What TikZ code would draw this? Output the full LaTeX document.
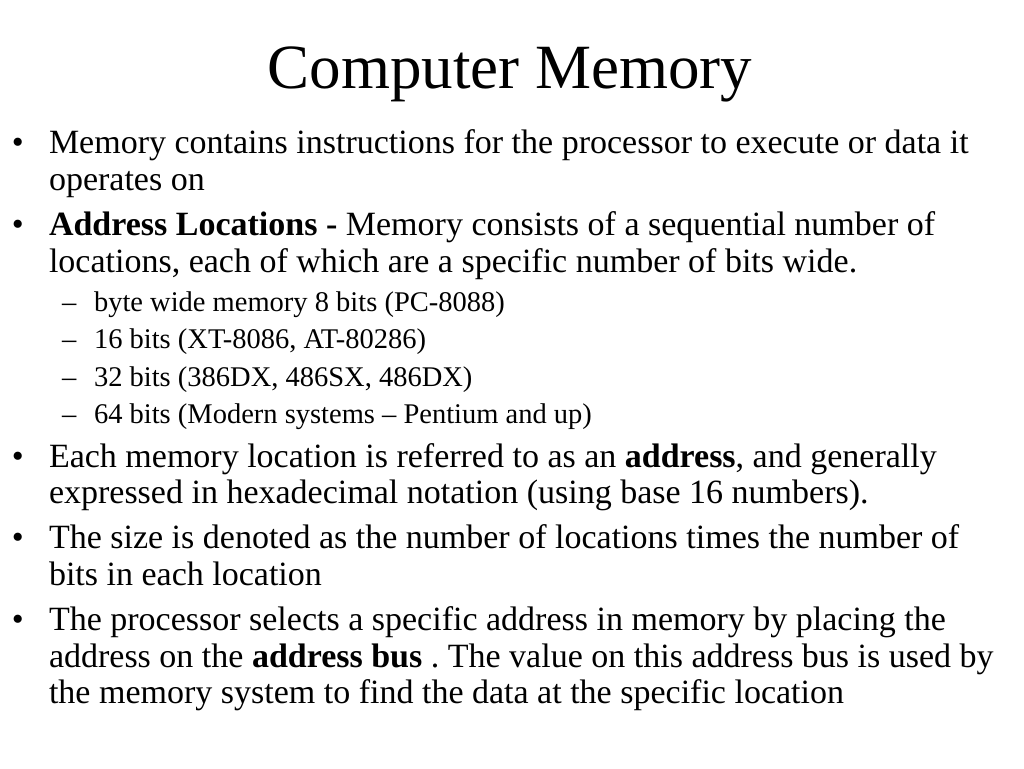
\documentclass[tikz,border=0pt]{standalone}
\usepackage{fontspec}
\setmainfont{Liberation Serif}
\frenchspacing
\begin{document}
\begin{tikzpicture}[x=1pt,y=-1pt,
  every node/.style={inner sep=0pt,outer sep=0pt,anchor=base west},
  body/.style={font=\fontsize{34}{40}\selectfont},
  sub/.style={font=\fontsize{28.5}{34}\selectfont},
  ttl/.style={font=\fontsize{63}{72}\selectfont,anchor=base}]
\useasboundingbox (0,0) rectangle (1024,768);
\fill[white] (0,0) rectangle (1024,768);
\node[ttl] (title) at (510,88) {Computer Memory};
% bullet 1
\node[body] (b1) at (12,153) {•};
\node[body] (t1a) at (49,153) {Memory contains instructions for the processor to execute or data it};
\node[body] (t1b) at (49,190) {operates on};
% bullet 2
\node[body] (b2) at (12,235) {•};
\node[body] (t2a) at (49,235) {\textbf{Address Locations -} Memory consists of a sequential number of};
\node[body] (t2b) at (49,272) {locations, each of which are a specific number of bits wide.};
% sub bullets
\node[sub] (d1) at (62,311) {–};
\node[sub] (s1) at (94,311) {byte wide memory 8 bits (PC-8088)};
\node[sub] (d2) at (62,348) {–};
\node[sub] (s2) at (94,348) {16 bits (XT-8086, AT-80286)};
\node[sub] (d3) at (62,386) {–};
\node[sub] (s3) at (94,386) {32 bits (386DX, 486SX, 486DX)};
\node[sub] (d4) at (62,423) {–};
\node[sub] (s4) at (94,423) {64 bits (Modern systems – Pentium and up)};
% bullet 3
\node[body] (b3) at (12,467) {•};
\node[body] (t3a) at (49,467) {Each memory location is referred to as an \textbf{address}, and generally};
\node[body] (t3b) at (49,503) {expressed in hexadecimal notation (using base 16 numbers).};
% bullet 4
\node[body] (b4) at (12,548) {•};
\node[body] (t4a) at (49,548) {The size is denoted as the number of locations times the number of};
\node[body] (t4b) at (49,585) {bits in each location};
% bullet 5
\node[body] (b5) at (12,630) {•};
\node[body] (t5a) at (49,630) {The processor selects a specific address in memory by placing the};
\node[body] (t5b) at (49,667) {address on the \textbf{address bus} . The value on this address bus is used by};
\node[body] (t5c) at (49,703) {the memory system to find the data at the specific location};
\end{tikzpicture}
\end{document}
